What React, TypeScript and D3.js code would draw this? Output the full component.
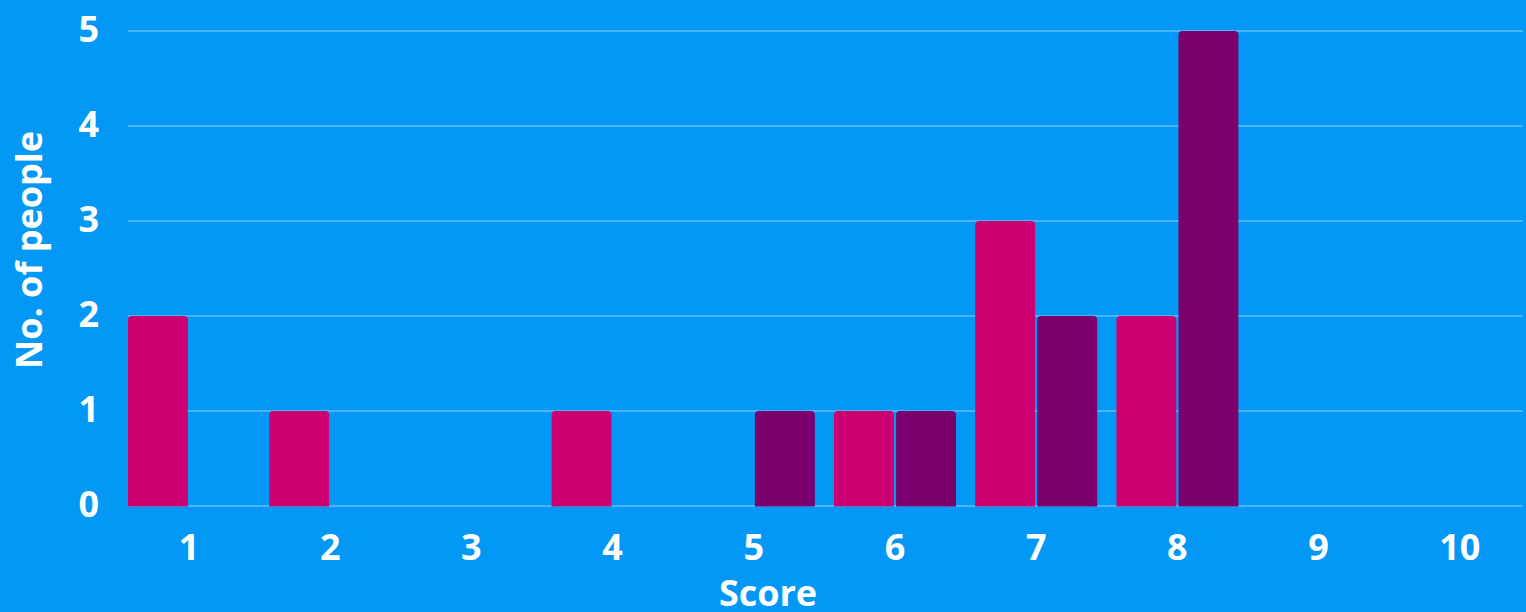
import React from "react";
import * as d3 from "d3";

const categories = ["1", "2", "3", "4", "5", "6", "7", "8", "9", "10"];
const seriesNames = ["A", "B"];
const seriesA = [2, 1, 0, 1, 0, 1, 3, 2, 0, 0];
const seriesB = [0, 0, 0, 0, 1, 1, 2, 5, 0, 0];
const yTicks = [0, 1, 2, 3, 4, 5];
const colors = ["#cd0072", "#7b006e"];

const W = 1526;
const H = 612;
const FONT = "'Open Sans', 'DejaVu Sans', sans-serif";

function topRoundedRect(x: number, y: number, w: number, h: number, r: number) {
  if (h <= 0) return "";
  const rr = Math.min(r, h, w / 2);
  return `M${x},${y + h}V${y + rr}Q${x},${y} ${x + rr},${y}H${x + w - rr}Q${x + w},${y} ${x + w},${y + rr}V${y + h}Z`;
}

export default function App() {
  const x0 = d3.scaleBand<string>().domain(categories).range([118.4, 1530.4]).paddingInner(0).paddingOuter(0);
  const step = x0.bandwidth();
  const x1 = d3.scaleBand<string>().domain(seriesNames).range([9.6, step - 9.6]).paddingInner(0.035);
  const y = d3.scaleLinear().domain([0, 5]).range([506, 31]);
  const series = [seriesA, seriesB];

  return (
    <svg width={W} height={H} style={{ position: "absolute", left: 0, top: 0, display: "block" }}>
      <rect x={0} y={0} width={W} height={H} fill="#0398f5" />
      {yTicks.map((t) => (
        <g key={t}>
          <line x1={128} x2={1523} y1={y(t)} y2={y(t)} stroke="#ffffff" strokeOpacity={0.28} strokeWidth={2} />
          <text x={99} y={y(t) + 11} textAnchor="end" fill="#fff" fontFamily={FONT} fontWeight={700} fontSize={36}>
            {t}
          </text>
        </g>
      ))}
      {categories.map((c, i) => (
        <g key={c}>
          {series.map((s, j) => {
            const v = s[i];
            const bx = (x0(c) as number) + (x1(seriesNames[j]) as number);
            const bw = x1.bandwidth();
            return v > 0 ? (
              <path key={j} d={topRoundedRect(bx, y(v), bw, y(0) - y(v) + 0.5, 4)} fill={colors[j]} />
            ) : null;
          })}
          <text x={(x0(c) as number) + step / 2} y={560} textAnchor="middle" fill="#fff" fontFamily={FONT} fontWeight={700} fontSize={36}>
            {c}
          </text>
        </g>
      ))}
      <text x={768} y={606} textAnchor="middle" fill="#fff" fontFamily={FONT} fontWeight={700} fontSize={36}>
        Score
      </text>
      <text transform={`translate(42,250) rotate(-90)`} textAnchor="middle" fill="#fff" fontFamily={FONT} fontWeight={700} fontSize={36}>
        No. of people
      </text>
    </svg>
  );
}
